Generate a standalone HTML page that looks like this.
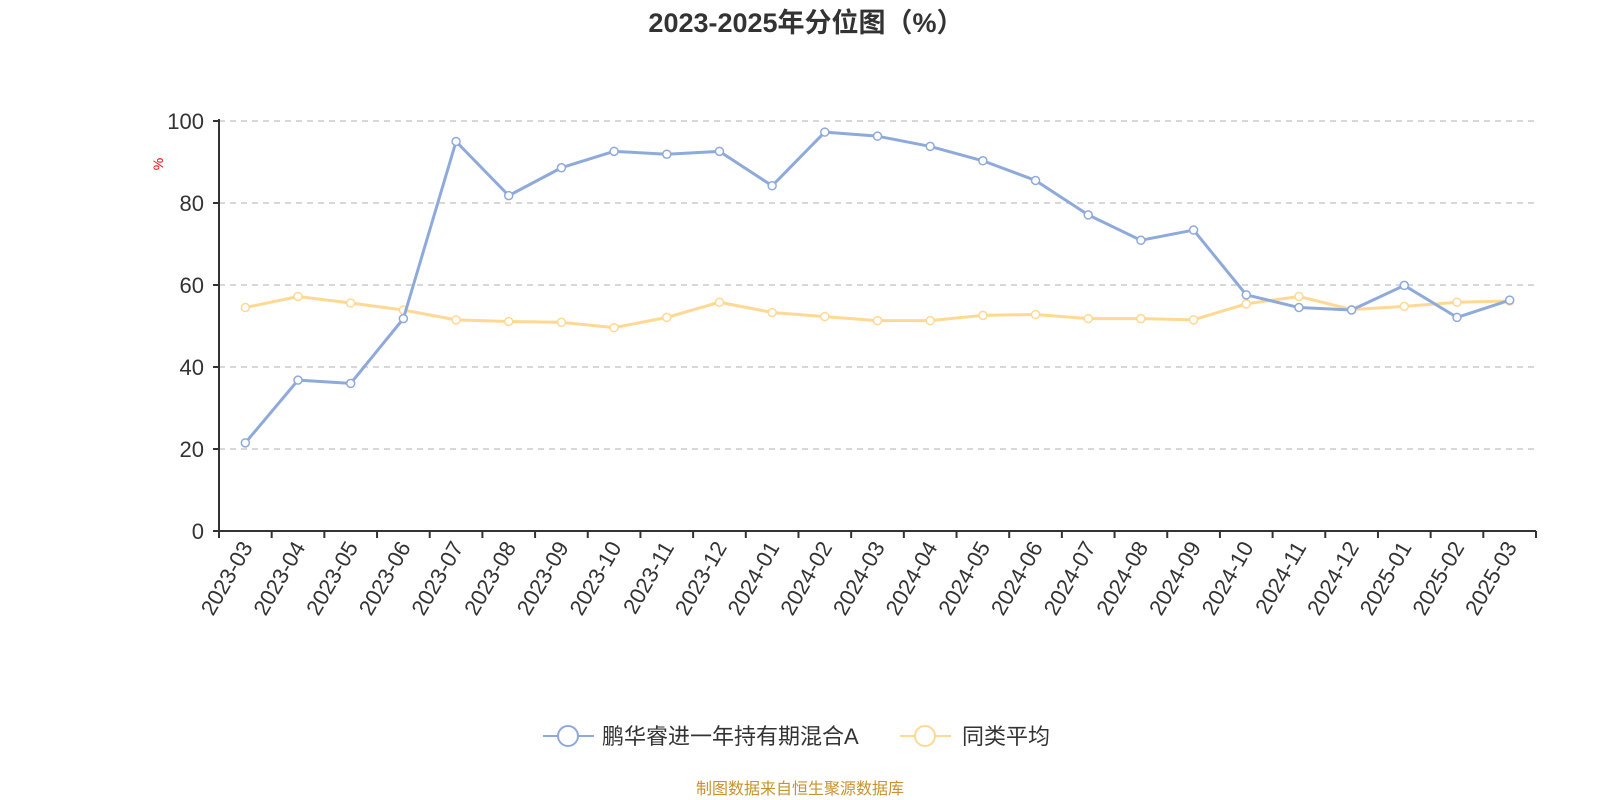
<!DOCTYPE html>
<html><head><meta charset="utf-8"><style>
body{margin:0;background:#fff;}
svg{display:block;font-family:"Liberation Sans","Noto Sans CJK SC",sans-serif;}
</style></head><body>
<svg id="chart" width="1600" height="800">
<text x="806" y="32" text-anchor="middle" font-size="27" font-weight="bold" fill="#333">2023-2025年分位图（%）</text>
<text x="0" y="0" transform="translate(163,164) rotate(-90)" text-anchor="middle" font-size="14" fill="#e00">%</text>
<g id="grid"></g><g id="axes"></g><g id="series"></g>
<g>
<g>
<line x1="543" y1="736" x2="594" y2="736" stroke="#8eaadb" stroke-width="2"/>
<circle cx="568" cy="736" r="10" fill="#fff" stroke="#8eaadb" stroke-width="2"/>
<text x="602" y="744" font-size="22" fill="#333">鹏华睿进一年持有期混合A</text></g>
<g>
<line x1="900" y1="736" x2="951" y2="736" stroke="#ffd994" stroke-width="2"/>
<circle cx="925" cy="736" r="10" fill="#fff" stroke="#ffd994" stroke-width="2"/>
<text x="962" y="744" font-size="22" fill="#333">同类平均</text></g>
</g>
<text x="800" y="794" text-anchor="middle" font-size="16" fill="#c9922e">制图数据来自恒生聚源数据库</text>
</svg>
<script>
const categories=["2023-03","2023-04","2023-05","2023-06","2023-07","2023-08","2023-09","2023-10","2023-11","2023-12","2024-01","2024-02","2024-03","2024-04","2024-05","2024-06","2024-07","2024-08","2024-09","2024-10","2024-11","2024-12","2025-01","2025-02","2025-03"];
const fundValues=[21.5,36.8,36,51.8,95,81.8,88.6,92.6,91.9,92.6,84.2,97.3,96.3,93.8,90.3,85.5,77.1,70.9,73.4,57.6,54.5,53.9,59.9,52.1,56.3];
const avgValues=[54.5,57.2,55.6,53.9,51.5,51.1,50.9,49.6,52.1,55.8,53.3,52.3,51.3,51.3,52.6,52.8,51.8,51.8,51.5,55.4,57.2,54.0,54.8,55.8,56.1];
const yTicks=[0,20,40,60,80,100];
const NS="http://www.w3.org/2000/svg";
const X0=219,X1=1536,Y0=531,Y1=121;
const BW=(X1-X0)/categories.length;
const xp=i=>X0+BW*(i+0.5);
const yp=v=>Y0-(v/100)*(Y0-Y1);
function mk(t,a,p){const e=document.createElementNS(NS,t);for(const k in a)e.setAttribute(k,a[k]);p.appendChild(e);return e;}
const grid=document.getElementById('grid'),axes=document.getElementById('axes'),ser=document.getElementById('series');
yTicks.forEach(v=>{
 if(v>0){const g=mk('line',{x1:X0,x2:X1,y1:yp(v),y2:yp(v),stroke:'#ccc','stroke-width':1.5,'stroke-dasharray':'6,5'},grid);
 
 }
 const t=mk('text',{x:204,y:yp(v)+8,'text-anchor':'end','font-size':22,fill:'#333'},axes);t.textContent=v;
 
 
 mk('line',{x1:X0-6,x2:X0,y1:yp(v),y2:yp(v),stroke:'#333','stroke-width':2},axes);
});
const ya=mk('line',{x1:X0,x2:X0,y1:Y1-2,y2:Y0,stroke:'#333','stroke-width':2},axes);


const xa=mk('line',{x1:X0,x2:X1,y1:Y0,y2:Y0,stroke:'#333','stroke-width':2},axes);


for(let i=0;i<=categories.length;i++){
 const tx=X0+BW*i;
 mk('line',{x1:tx,x2:tx,y1:Y0,y2:Y0+7,stroke:'#333','stroke-width':2},axes);
}
categories.forEach((c,i)=>{
 const t=mk('text',{x:0,y:0,transform:`translate(${xp(i)+8},${Y0+16}) rotate(-60)`,'text-anchor':'end','font-size':22,fill:'#333'},axes);
 t.textContent=c;
 
 
});
function series(vals,color,name){
 const p=mk('polyline',{points:vals.map((v,i)=>xp(i)+','+yp(v)).join(' '),fill:'none',stroke:color,'stroke-width':3,'stroke-linejoin':'round'},ser);
 
 
 vals.forEach((v,i)=>{const c=mk('circle',{cx:xp(i),cy:yp(v),r:4,fill:'#fff',stroke:color,'stroke-width':1.5},ser);
 
 });
}
series(avgValues,'#ffd994','average');
series(fundValues,'#8eaadb','fund');
</script>
</body></html>
